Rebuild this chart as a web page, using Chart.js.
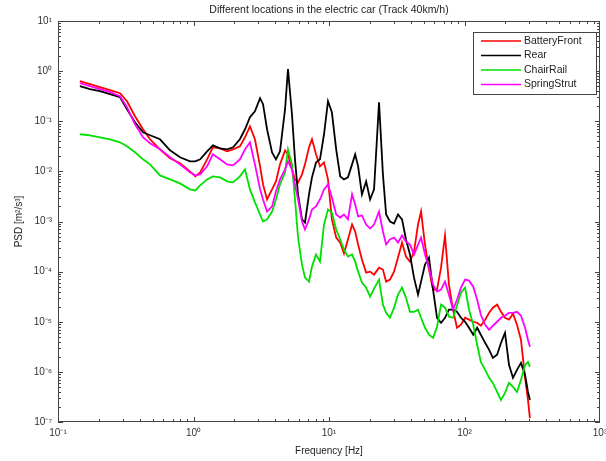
<!DOCTYPE html>
<html><head><meta charset="utf-8">
<script src="https://cdn.jsdelivr.net/npm/chart.js@4"></script>
<style>html,body{margin:0;padding:0;background:#fff;}#wrap{width:606px;height:461px;}</style>
</head><body><div id="wrap"><canvas id="c" width="606" height="461"></canvas></div>
<script>
const chartTitle = 'Different locations in the electric car (Track 40km/h)';
const xAxisTitle = 'Frequency [Hz]';
const yAxisTitle = 'PSD [m²/s³]';
const seriesNames = ['BatteryFront', 'Rear', 'ChairRail', 'SpringStrut'];
const seriesColors = ['#ff0000', '#000000', '#00e000', '#ff00ff'];
const xTickValues = [0.1, 1, 10, 100, 1000];
const xTickLabels = ['10⁻¹', '10⁰', '10¹', '10²', '10³'];
const yTickValues = [1e-7, 1e-6, 1e-5, 1e-4, 1e-3, 1e-2, 1e-1, 1, 10];
const yTickLabels = ['10⁻⁷', '10⁻⁶', '10⁻⁵', '10⁻⁴', '10⁻³', '10⁻²', '10⁻¹', '10⁰', '10¹'];

const freq = [0.145,0.172,0.204,0.242,0.287,0.323,0.370,0.424,0.478,0.566,0.671,0.795,0.942,1.03,1.12,1.26,1.39,1.57,1.77,1.96,2.20,2.40,2.61,2.84,3.10,3.26,3.49,3.80,4.06,4.35,4.74,4.98,5.33,5.61,5.91,6.32,6.65,7.12,7.49,8.02,8.58,9.19,9.83,10.5,11.3,12.1,12.9,13.8,14.8,15.6,16.4,17.5,18.8,20.1,21.5,23.4,25.0,26.4,28.2,30.2,32.3,34.6,37.0,39.6,42.4,45.4,47.8,51.1,54.7,58.6,62.7,67.1,71.8,76.8,82.3,88.0,94.2,101,108,116,124,132,142,152,162,174,186,199,213,228,244,261,280,294,304];

const batteryFront = [0.631,0.550,0.479,0.417,0.363,0.251,0.126,0.0692,0.0437,0.0275,0.0182,0.0145,0.0100,0.00794,0.00955,0.0174,0.0302,0.0288,0.0251,0.0275,0.0316,0.0479,0.0794,0.0437,0.0126,0.00550,0.00275,0.00437,0.00631,0.0138,0.0263,0.0219,0.0110,0.00692,0.00603,0.00871,0.0138,0.0302,0.0437,0.0219,0.0126,0.0151,0.00692,0.00110,0.000479,0.000380,0.000229,0.000437,0.000871,0.000631,0.000347,0.000174,9.55e-5,1.0e-4,8.71e-5,1.20e-4,1.10e-4,6.31e-5,6.92e-5,1.0e-4,1.91e-4,3.80e-4,2.0e-4,1.58e-4,2.51e-4,8.71e-4,0.00158,3.47e-4,1.10e-4,4.37e-5,4.37e-5,1.20e-4,5.25e-4,5.50e-5,1.74e-5,7.59e-6,8.71e-6,1.20e-5,1.10e-5,1.0e-5,9.55e-6,8.32e-6,1.10e-5,1.51e-5,1.91e-5,2.19e-5,1.58e-5,1.20e-5,1.10e-5,1.45e-5,8.71e-6,4.37e-6,7.59e-7,2.75e-7,1.20e-7];

const rear = [0.501,0.437,0.398,0.347,0.302,0.174,0.0955,0.0603,0.0525,0.0437,0.0263,0.0191,0.0158,0.0158,0.0174,0.0251,0.0331,0.0288,0.0275,0.0302,0.0437,0.0692,0.120,0.158,0.288,0.219,0.0692,0.0240,0.0174,0.0251,0.174,1.10,0.138,0.0174,0.00347,0.00110,0.000955,0.00347,0.00759,0.0151,0.0174,0.0550,0.251,0.151,0.0275,0.00794,0.00692,0.00759,0.0138,0.0219,0.0126,0.00347,0.00631,0.00275,0.00437,0.240,0.00871,0.00138,0.00100,0.000912,0.00138,0.00110,0.000437,0.000219,7.59e-5,3.47e-5,6.31e-5,1.38e-4,1.91e-4,4.37e-5,1.20e-5,9.55e-6,1.20e-5,1.74e-5,1.74e-5,1.58e-5,1.20e-5,1.0e-5,7.59e-6,5.50e-6,7.59e-6,5.50e-6,3.80e-6,2.75e-6,1.91e-6,2.19e-6,3.80e-6,6.03e-6,1.38e-6,7.59e-7,1.10e-6,1.51e-6,8.71e-7,3.98e-7,2.75e-7];

const chairRail = [0.0550,0.0525,0.0479,0.0437,0.0380,0.0316,0.0240,0.0174,0.0138,0.00832,0.00692,0.00575,0.00437,0.00417,0.00525,0.00692,0.00794,0.00759,0.00631,0.00603,0.00794,0.0110,0.00437,0.00240,0.00138,0.00100,0.00110,0.00158,0.00275,0.00550,0.00955,0.0275,0.0138,0.00275,0.000479,1.38e-4,7.59e-5,6.31e-5,1.26e-4,2.19e-4,1.58e-4,8.71e-4,0.00174,0.00151,6.92e-4,4.37e-4,2.75e-4,2.0e-4,2.19e-4,1.58e-4,1.0e-4,6.03e-5,4.79e-5,3.16e-5,4.57e-5,6.92e-5,2.19e-5,1.51e-5,1.20e-5,1.91e-5,3.47e-5,4.79e-5,3.02e-5,1.58e-5,1.58e-5,1.74e-5,1.20e-5,7.59e-6,5.50e-6,4.79e-6,7.94e-6,2.19e-5,1.91e-5,1.26e-5,1.20e-5,2.09e-5,3.80e-5,4.79e-5,1.74e-5,8.71e-6,3.47e-6,1.58e-6,1.10e-6,7.59e-7,6.03e-7,3.98e-7,2.75e-7,3.80e-7,6.03e-7,5.01e-7,3.98e-7,6.92e-7,1.38e-6,1.58e-6,1.26e-6];

const springStrut = [0.575,0.501,0.437,0.380,0.316,0.191,0.0871,0.0479,0.0363,0.0275,0.0191,0.0138,0.00955,0.00832,0.00871,0.0126,0.0219,0.0174,0.0138,0.0132,0.0174,0.0275,0.0380,0.0138,0.00437,0.00275,0.00158,0.00200,0.00398,0.00692,0.0110,0.0158,0.0110,0.00550,0.00275,0.00100,0.000692,0.00110,0.00174,0.00200,0.00275,0.00437,0.00550,0.00302,0.00138,0.00120,0.00138,0.00110,0.00347,0.00219,0.00126,0.00132,0.000871,0.000724,0.000871,0.00158,0.000631,0.000347,0.000437,0.000479,0.000380,0.000525,0.000398,0.000347,0.000219,0.000347,0.000479,0.000219,1.20e-4,5.50e-5,3.98e-5,4.37e-5,6.31e-5,3.47e-5,1.74e-5,2.75e-5,4.79e-5,6.92e-5,6.61e-5,5.01e-5,2.75e-5,1.38e-5,8.71e-6,6.92e-6,8.32e-6,1.0e-5,1.20e-5,1.32e-5,1.51e-5,1.51e-5,1.58e-5,1.32e-5,7.59e-6,4.37e-6,3.16e-6];

const seriesValues = [batteryFront, rear, chairRail, springStrut];
const FONT = '"Liberation Sans", Arial, sans-serif';

const decor = {
  id: 'decor',
  beforeDraw(chart) {
    const c = chart.ctx; c.save(); c.fillStyle = '#fff'; c.fillRect(0, 0, chart.width, chart.height); c.restore();
  },
  afterDraw(chart) {
    const {ctx, chartArea: a, scales: {x, y}} = chart;
    ctx.save();
    ctx.strokeStyle = '#444'; ctx.lineWidth = 1;
    ctx.strokeRect(Math.round(a.left) + 0.5, Math.round(a.top) + 0.5, Math.round(a.right - a.left) - 1, Math.round(a.bottom - a.top) - 1);
    ctx.beginPath();
    for (let e = -1; e < 3; e++) {
      for (let k = 1; k <= 9; k++) {
        const v = k * Math.pow(10, e);
        const px = Math.round(x.getPixelForValue(v)) + 0.5;
        const len = k === 1 ? 5 : 3;
        ctx.moveTo(px, a.bottom); ctx.lineTo(px, a.bottom - len);
        ctx.moveTo(px, a.top); ctx.lineTo(px, a.top + len);
      }
    }
    for (let e = -7; e < 1; e++) {
      for (let k = 1; k <= 9; k++) {
        const v = k * Math.pow(10, e);
        const py = Math.round(y.getPixelForValue(v)) + 0.5;
        const len = k === 1 ? 5 : 3;
        ctx.moveTo(a.left, py); ctx.lineTo(a.left + len, py);
        ctx.moveTo(a.right, py); ctx.lineTo(a.right - len, py);
      }
    }
    ctx.stroke();
    ctx.fillStyle = '#222';
    ctx.font = '10.5px ' + FONT;
    ctx.textAlign = 'center'; ctx.textBaseline = 'middle';
    ctx.fillText(chartTitle, (a.left + a.right) / 2, 10);
    ctx.font = '10px ' + FONT;
    ctx.fillText(xAxisTitle, (a.left + a.right) / 2, 451);
    ctx.save();
    ctx.translate(19, (a.top + a.bottom) / 2);
    ctx.rotate(-Math.PI / 2);
    ctx.fillText(yAxisTitle, 0, 0);
    ctx.restore();
    const lx = a.right - 127, ly = a.top + 11, lw = 123, lh = 62;
    ctx.fillStyle = '#fff';
    ctx.fillRect(lx, ly, lw, lh);
    ctx.strokeStyle = '#444';
    ctx.strokeRect(lx + 0.5, ly + 0.5, lw, lh);
    ctx.font = '10.5px ' + FONT;
    ctx.textAlign = 'left';
    seriesNames.forEach((n, i) => {
      const ry = ly + 9 + i * 14.5;
      ctx.strokeStyle = seriesColors[i]; ctx.lineWidth = 1.5;
      ctx.beginPath(); ctx.moveTo(lx + 8, ry); ctx.lineTo(lx + 48, ry); ctx.stroke();
      ctx.fillStyle = '#222';
      ctx.fillText(n, lx + 51, ry);
    });
    ctx.restore();
  }
};

new Chart(document.getElementById('c'), {
  type: 'line',
  data: {
    datasets: seriesNames.map((n, i) => ({
      label: n,
      data: freq.map((f, j) => ({x: f, y: seriesValues[i][j]})),
      borderColor: seriesColors[i],
      borderWidth: 1.8,
      pointRadius: 0,
      fill: false,
      tension: 0,
      order: 3 - i
    }))
  },
  options: {
    responsive: false,
    animation: false,
    devicePixelRatio: 1,
    layout: {padding: {top: 21, right: 6, left: 0, bottom: 0}},
    plugins: {legend: {display: false}, title: {display: false}, tooltip: {enabled: false}},
    scales: {
      x: {
        type: 'logarithmic', min: 0.1, max: 1000,
        afterBuildTicks: s => { s.ticks = xTickValues.map(v => ({value: v})); },
        afterFit: s => { s.height = 39; s.paddingLeft = 0; s.paddingRight = 0; },
        ticks: {
          autoSkip: false, maxRotation: 0, minRotation: 0, padding: 5, color: '#333',
          font: {family: FONT, size: 10},
          callback: v => { const k = xTickValues.indexOf(v); return k >= 0 ? xTickLabels[k] : ''; }
        },
        grid: {display: false, drawTicks: false},
        border: {display: false}
      },
      y: {
        type: 'logarithmic', min: 1e-7, max: 10,
        afterBuildTicks: s => { s.ticks = yTickValues.map(v => ({value: v})); },
        afterFit: s => { s.width = 58; },
        ticks: {
          autoSkip: false, padding: 6, color: '#333',
          font: {family: FONT, size: 10},
          callback: v => { const k = yTickValues.indexOf(v); return k >= 0 ? yTickLabels[k] : ''; }
        },
        grid: {display: false, drawTicks: false},
        border: {display: false}
      }
    }
  },
  plugins: [decor]
});
</script>
</body></html>
